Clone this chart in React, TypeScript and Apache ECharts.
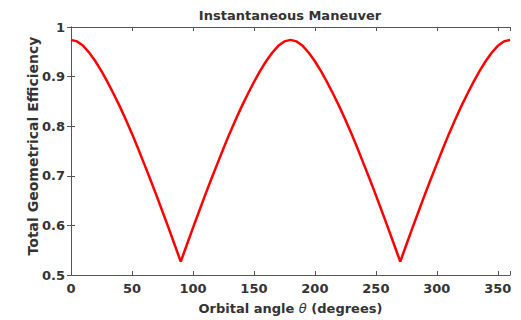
import React, { useEffect, useRef } from "react";
import * as echarts from "echarts";

const titleText = "Instantaneous Maneuver";
const xAxisName = "Orbital angle {i|θ} (degrees)";
const yAxisName = "Total Geometrical Efficiency";

const angles = [
  0, 5, 10, 15, 20, 25, 30, 35, 40, 45, 50, 55, 60, 65, 70, 75, 80, 85, 90,
  95, 100, 105, 110, 115, 120, 125, 130, 135, 140, 145, 150, 155, 160, 165, 170, 175, 180,
  185, 190, 195, 200, 205, 210, 215, 220, 225, 230, 235, 240, 245, 250, 255, 260, 265, 270,
  275, 280, 285, 290, 295, 300, 305, 310, 315, 320, 325, 330, 335, 340, 345, 350, 355, 360,
];

const efficiency = [
  0.974, 0.971, 0.962, 0.948, 0.931, 0.911, 0.889, 0.865, 0.840, 0.813, 0.785, 0.755, 0.724, 0.693, 0.661, 0.628, 0.595, 0.561, 0.527,
  0.561, 0.595, 0.628, 0.661, 0.693, 0.724, 0.755, 0.785, 0.813, 0.840, 0.865, 0.889, 0.911, 0.931, 0.948, 0.962, 0.971, 0.974,
  0.971, 0.962, 0.948, 0.931, 0.911, 0.889, 0.865, 0.840, 0.813, 0.785, 0.755, 0.724, 0.693, 0.661, 0.628, 0.595, 0.561, 0.527,
  0.561, 0.595, 0.628, 0.661, 0.693, 0.724, 0.755, 0.785, 0.813, 0.840, 0.865, 0.889, 0.911, 0.931, 0.948, 0.962, 0.971, 0.974,
];

const xMin = 0;
const xMax = 360;
const xStep = 50;
const yMin = 0.5;
const yMax = 1;
const yStep = 0.1;

const FONT = "DejaVu Sans";
const TEXT = "#333333";
const AXIS = "#555555";

export default function App() {
  const ref = useRef<HTMLDivElement>(null);

  useEffect(() => {
    document.body.style.margin = "0";
    if (!ref.current) return;
    const chart = echarts.init(ref.current, undefined, { renderer: "svg" });

    const axisLine = { show: true, lineStyle: { color: AXIS, width: 1 } };
    const axisTick = { show: true, inside: true, length: 4, lineStyle: { color: AXIS, width: 1 } };
    const labelStyle = { color: TEXT, fontFamily: FONT, fontWeight: "bold" as const, fontSize: 13 };

    chart.setOption({
      animation: false,
      backgroundColor: "#ffffff",
      grid: { left: 71, right: 11, top: 27, bottom: 43, containLabel: false },
      graphic: [
        {
          type: "text",
          x: 290,
          y: 15,
          style: {
            text: titleText,
            textAlign: "center",
            textVerticalAlign: "middle",
            fontFamily: FONT,
            fontWeight: "bold",
            fontSize: 13,
            fill: TEXT,
          },
        },
        {
          type: "text",
          x: 33,
          y: 146,
          rotation: Math.PI / 2,
          style: {
            text: yAxisName,
            textAlign: "center",
            textVerticalAlign: "middle",
            fontFamily: FONT,
            fontWeight: "bold",
            fontSize: 14,
            fill: TEXT,
          },
        },
      ],
      xAxis: [
        {
          type: "value",
          min: xMin,
          max: xMax,
          interval: xStep,
          position: "bottom",
          axisLine,
          axisTick,
          splitLine: { show: false },
          axisLabel: {
            ...labelStyle,
            margin: 7,
            formatter: (v: number) => (v === xMax ? "" : String(v)),
          },
          name: xAxisName,
          nameLocation: "middle",
          nameGap: 27,
          nameTextStyle: {
            ...labelStyle,
            rich: {
              i: { ...labelStyle, fontStyle: "italic", fontWeight: "normal" },
            },
          },
        },
        {
          type: "value",
          min: xMin,
          max: xMax,
          interval: xStep,
          position: "top",
          axisLine,
          axisTick,
          splitLine: { show: false },
          axisLabel: { show: false },
        },
      ],
      yAxis: [
        {
          type: "value",
          min: yMin,
          max: yMax,
          interval: yStep,
          position: "left",
          axisLine,
          axisTick,
          splitLine: { show: false },
          axisLabel: {
            ...labelStyle,
            margin: 6,
            formatter: (v: number) => String(Number(v.toFixed(1))),
          },
        },
        {
          type: "value",
          min: yMin,
          max: yMax,
          interval: yStep,
          position: "right",
          axisLine,
          axisTick,
          splitLine: { show: false },
          axisLabel: { show: false },
        },
      ],
      series: [
        {
          type: "line",
          xAxisIndex: 0,
          yAxisIndex: 0,
          data: angles.map((a, i) => [a, efficiency[i]]),
          showSymbol: false,
          symbol: "none",
          lineStyle: { color: "#ff0000", width: 2.5 },
          smooth: false,
        },
      ],
    });

    return () => chart.dispose();
  }, []);

  return <div ref={ref} style={{ width: 521, height: 320 }} />;
}
